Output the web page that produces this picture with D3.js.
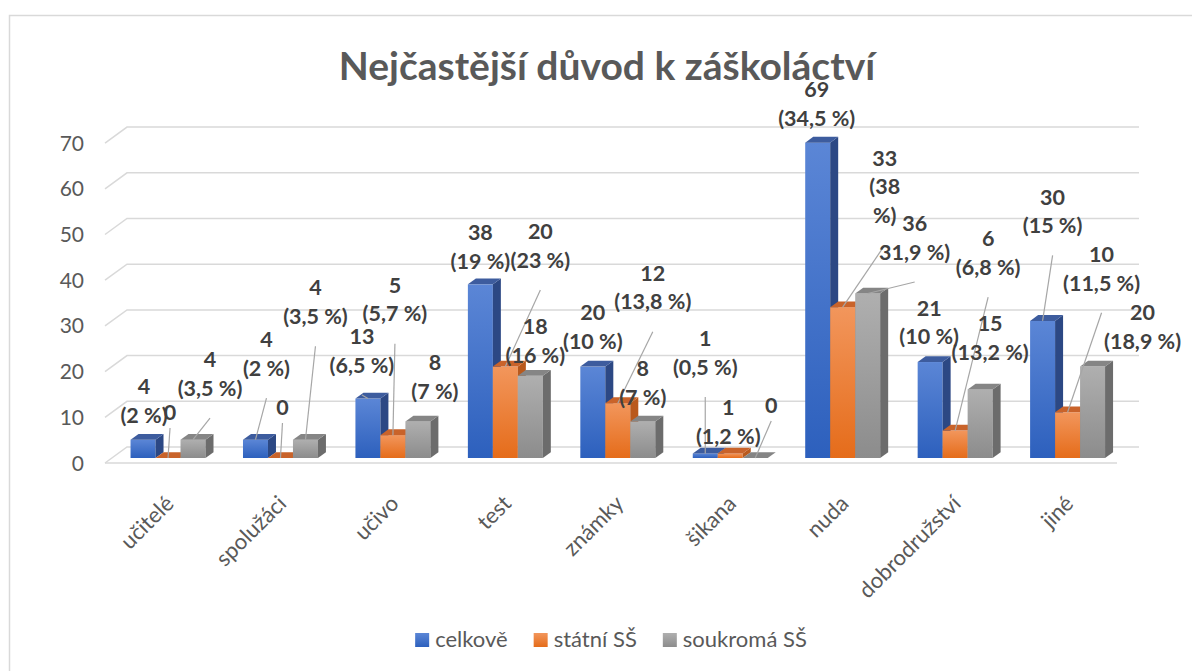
<!DOCTYPE html>
<html>
<head>
<meta charset="utf-8">
<script src="https://cdn.jsdelivr.net/npm/d3@7"></script>
<style>
  body { margin: 0; background: #fff; }
  svg { display: block; }
  text { font-family: Lato, "Open Sans", sans-serif; }
</style>
</head>
<body>
<svg id="chart"></svg>
<script>
// data
const categories = ["učitelé", "spolužáci", "učivo", "test", "známky", "šikana", "nuda", "dobrodružství", "jiné"];
const seriesNames = ["celkově", "státní SŠ", "soukromá SŠ"];
const totalValues = [4, 4, 13, 38, 20, 1, 69, 21, 30];
const stateValues = [0, 0, 5, 20, 12, 1, 33, 6, 10];
const privateValues = [4, 4, 8, 18, 8, 0, 36, 15, 20];
const totalShares = ["(2 %)", "(2 %)", "(6,5 %)", "(19 %)", "(10 %)", "(0,5 %)", "(34,5 %)", "(10 %)", "(15 %)"];
const stateShares = ["", "", "(5,7 %)", "(23 %)", "(13,8 %)", "(1,2 %)", "(38\n%)", "(6,8 %)", "(11,5 %)"];
const privateShares = ["(3,5 %)", "(3,5 %)", "(7 %)", "(16 %)", "(7 %)", "", "31,9 %)", "(13,2 %)", "(18,9 %)"];
const yTicks = [0, 10, 20, 30, 40, 50, 60, 70];

// label placement (dx, dy from bar top, leader line on/off) - hand moved in the original
const totalLabelPos = [[1, -53, 0], [11, -100, 1], [-6, -62, 1], [0, -52, 0], [0, -54, 0], [0, -115, 1], [-1, -53, 0], [-1, -54, 0], [10, -124, 1]];
const stateLabelPos = [[2, -46, 1], [2, -51, 1], [2, -150, 1], [35, -135, 1], [35, -130, 1], [-2, -46, 0], [42, -149, 1], [33, -192, 1], [34, -158, 1]];
const privateLabelPos = [[17, -80, 1], [10, -152, 1], [17, -59, 0], [5, -49, 0], [0, -53, 0], [16, -53, 1], [47, -70, 1], [10, -66, 0], [50, -54, 0]];

const width = 1192, height = 671;
const floorLeft = 105, floorRight = 1117, floorY = 463;
const depth = [22, -16];        // front -> back wall
const barFront = [6.8, -5];     // front plane of the bars
const barDepth = [8, -5.8];     // bar thickness
const gridColor = "#d9d9d9";
const textColor = "#595959";

const colors = [
  { top: "#5b86d6", bottom: "#2d60bd", side: "#2c4884", cap: "#3d5c9e" },
  { top: "#f2965c", bottom: "#e56c1a", side: "#b9591c", cap: "#c9632a" },
  { top: "#afafaf", bottom: "#8c8c8c", side: "#6c6c6c", cap: "#858585" }
];

const series = [
  { name: seriesNames[0], values: totalValues, shares: totalShares, pos: totalLabelPos },
  { name: seriesNames[1], values: stateValues, shares: stateShares, pos: stateLabelPos },
  { name: seriesNames[2], values: privateValues, shares: privateShares, pos: privateLabelPos }
];

const svg = d3.select("#chart")
  .attr("width", width)
  .attr("height", height)
  .attr("viewBox", [0, 0, width, height]);

// gradients
const defs = svg.append("defs");
colors.forEach((c, i) => {
  const g = defs.append("linearGradient")
    .attr("id", "grad" + i)
    .attr("x1", 0).attr("y1", 0).attr("x2", 0).attr("y2", 1);
  g.append("stop").attr("offset", "0%").attr("stop-color", c.top);
  g.append("stop").attr("offset", "100%").attr("stop-color", c.bottom);
});

// chart area border
svg.append("rect")
  .attr("x", 9.5).attr("y", 15.5)
  .attr("width", 1300).attr("height", 800)
  .attr("fill", "#fff")
  .attr("stroke", gridColor)
  .attr("stroke-width", 1.5);

// title
svg.append("text")
  .attr("x", 607)
  .attr("y", 80)
  .attr("text-anchor", "middle")
  .attr("fill", textColor)
  .attr("font-size", 39)
  .attr("font-weight", "bold")
  .text("Nejčastější důvod k záškoláctví");

const y = d3.scaleLinear().domain([0, 70]).range([floorY, floorY - 70 * 4.57]);
const x0 = d3.scaleBand().domain(categories).range([floorLeft, floorRight])
  .paddingInner(1 / 3).paddingOuter(1 / 6);
const x1 = d3.scaleBand().domain(seriesNames).range([0, x0.bandwidth()]);

// walls: gridlines on the back wall and the left side wall
const grid = svg.append("g")
  .attr("stroke", gridColor)
  .attr("stroke-width", 1.5)
  .attr("fill", "none");

grid.selectAll("path.grid")
  .data(yTicks)
  .join("path")
  .attr("class", "grid")
  .attr("d", (d) => `M${floorLeft},${y(d)}L${floorLeft + depth[0]},${y(d) + depth[1]}H${floorRight + depth[0]}`);

grid.append("path")
  .attr("d", `M${floorLeft},${floorY}H${floorRight}`);

// y axis labels
svg.append("g")
  .selectAll("text")
  .data(yTicks)
  .join("text")
  .attr("x", 84)
  .attr("y", (d) => y(d))
  .attr("dy", "0.36em")
  .attr("text-anchor", "end")
  .attr("fill", textColor)
  .attr("font-size", 21)
  .text((d) => d);

// category labels
svg.append("g")
  .selectAll("text")
  .data(categories)
  .join("text")
  .attr("transform", (d) => `translate(${x0(d) + x0.bandwidth() / 2 + 14},${floorY + 42}) rotate(-45)`)
  .attr("text-anchor", "end")
  .attr("fill", textColor)
  .attr("font-size", 22)
  .text((d) => d);

// bars
const bars = [];
categories.forEach((c, i) => {
  series.forEach((s, j) => {
    const xl = x0(c) + x1(s.name) + barFront[0];
    const xr = xl + x1.bandwidth();
    const yt = y(s.values[i]) + barFront[1];
    const yb = y(0) + barFront[1];
    bars.push({ c, i, j, s, xl, xr, yt, yb });
  });
});

const barG = svg.append("g")
  .selectAll("g")
  .data(bars)
  .join("g");

barG.append("rect")
  .attr("x", (d) => d.xl)
  .attr("y", (d) => d.yt)
  .attr("width", x1.bandwidth())
  .attr("height", (d) => d.yb - d.yt)
  .attr("fill", (d) => `url(#grad${d.j})`);

barG.append("path")
  .attr("d", (d) => `M${d.xr},${d.yt}l${barDepth[0]},${barDepth[1]}V${d.yb + barDepth[1]}L${d.xr},${d.yb}Z`)
  .attr("fill", (d) => colors[d.j].side);

barG.append("path")
  .attr("d", (d) => `M${d.xl},${d.yt}H${d.xr}l${barDepth[0]},${barDepth[1]}H${d.xl + barDepth[0]}Z`)
  .attr("fill", (d) => colors[d.j].cap);

// data labels with leader lines
const lineH = 28.5;
const labels = bars.map((d) => {
  const p = d.s.pos[d.i];
  const bx = (d.xl + d.xr) / 2;
  const lines = [String(d.s.values[d.i])].concat(d.s.shares[d.i] ? d.s.shares[d.i].split("\n") : []);
  return { bx, by: d.yt, lx: bx + p[0], ly: d.yt + p[1], leader: p[2], lines };
});

svg.append("g")
  .attr("stroke", "#a6a6a6")
  .attr("stroke-width", 1.2)
  .selectAll("line")
  .data(labels.filter((d) => d.leader))
  .join("line")
  .attr("x1", (d) => d.lx)
  .attr("y1", (d) => d.ly + (d.lines.length - 1) * lineH + (d.lines.length > 1 ? 30 : 16))
  .attr("x2", (d) => d.bx)
  .attr("y2", (d) => d.by);

const lbl = svg.append("g")
  .attr("fill", "#404040")
  .attr("font-size", 21.5)
  .attr("font-weight", "bold")
  .attr("text-anchor", "middle")
  .selectAll("text")
  .data(labels)
  .join("text")
  .attr("x", (d) => d.lx)
  .attr("y", (d) => d.ly);

lbl.selectAll("tspan")
  .data((d) => d.lines.map((t, k) => ({ t, k, x: d.lx })))
  .join("tspan")
  .attr("x", (d) => d.x)
  .attr("dy", (d) => (d.k === 0 ? "0.36em" : lineH))
  .text((d) => d.t);

// legend
const legend = svg.append("g");
let lx = 0;
const items = legend.selectAll("g")
  .data(seriesNames)
  .join("g");
items.append("rect")
  .attr("y", -14)
  .attr("width", 14)
  .attr("height", 14)
  .attr("fill", (d, i) => `url(#grad${i})`);
items.append("text")
  .attr("x", 20)
  .attr("y", 0)
  .attr("fill", textColor)
  .attr("font-size", 22)
  .text((d) => d);
items.each(function () {
  const g = d3.select(this);
  g.attr("transform", `translate(${lx},0)`);
  lx += 20 + g.select("text").node().getComputedTextLength() + 26;
});
const legendW = lx - 26;
legend.attr("transform", `translate(${611 - legendW / 2},647)`);
</script>
</body>
</html>
